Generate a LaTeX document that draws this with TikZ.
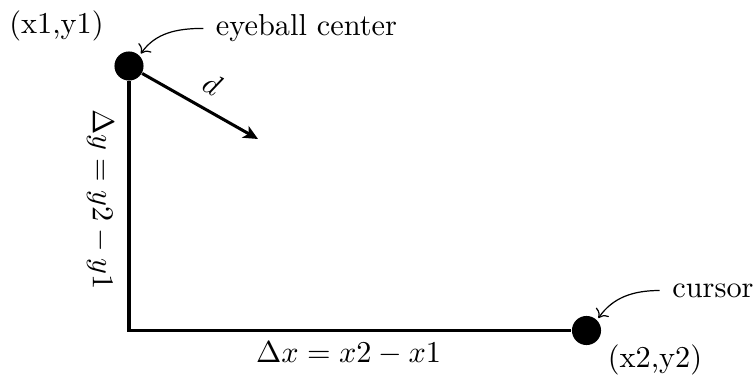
\documentclass[tikz,border=0pt]{standalone}
\usetikzlibrary{arrows.meta}
\begin{document}
\begin{tikzpicture}[x=0.33pt,y=-0.33pt,
  dot/.style={circle,fill=black,minimum size=9.6pt,inner sep=0pt},
  lbl/.style={inner sep=0pt},
  thickline/.style={line width=1pt},
  pointer/.style={->,thin,shorten >=0.7pt}]
\useasboundingbox (0,0) rectangle (756,381);
\node[dot] (eye) at (129,66) {};
\node[dot] (cur) at (586.5,330.5) {};
\coordinate (corner) at (129,330.5);
\coordinate (dend) at (258,139);
\draw[thickline] (eye.south) -- (corner) -- (cur.west);
\draw[thickline,-{Stealth[length=4.8pt,width=4.4pt,inset=1.3pt]}] (eye) -- (dend) node[midway,above=1pt,sloped] {$d$};
\node[lbl] (p1) at (56.5,25.5) {(x1,y1)};
\node[lbl] (ec) at (306.5,28.4) {eyeball center};
\node[lbl] (cl) at (713,290.5) {cursor};
\node[lbl] (p2) at (655,359.5) {(x2,y2)};
\node[lbl,rotate=-90] (dy) at (100.4,199.5) {$\Delta y = y2 - y1$};
\node[lbl] (dx) at (348.5,353.6) {$\Delta x = x2 - x1$};
\draw[pointer] ([xshift=-4pt]ec.west) to[out=180,in=55] (eye.north east);
\draw[pointer] ([xshift=-4pt]cl.west) to[out=180,in=55] (cur.north east);
\end{tikzpicture}
\end{document}
